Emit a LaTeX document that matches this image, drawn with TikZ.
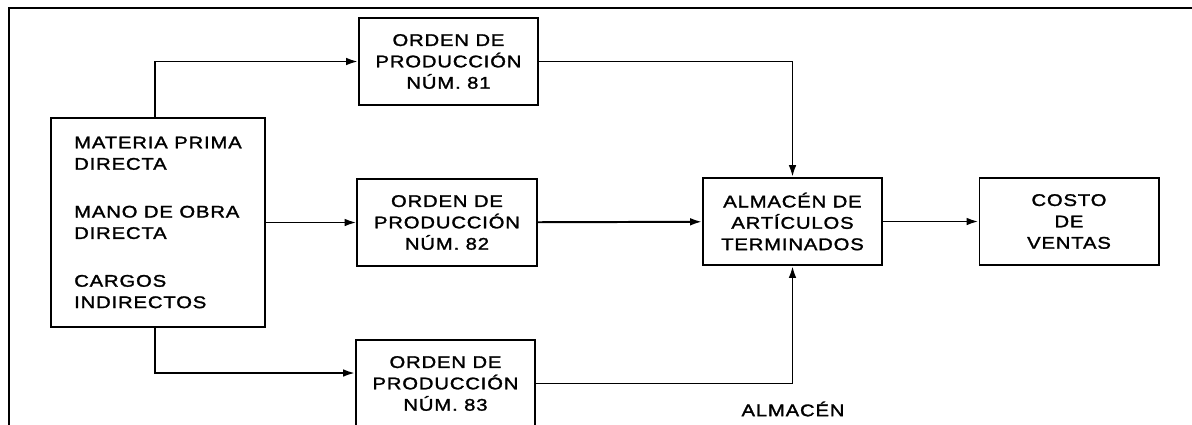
\documentclass[tikz,border=0pt]{standalone}
\usepackage{fontspec}
\setmainfont{Liberation Sans}[FakeStretch=1.2,LetterSpace=5,FakeBold=1.6]
\usepackage{tikz}
\usetikzlibrary{positioning,arrows.meta,calc}

\begin{document}
\begin{tikzpicture}[
        x=0.025cm, y=-0.025cm,
        caja/.style={draw, line width=1.4pt, align=center, font=\fontsize{12}{15.2}\selectfont, minimum width=4.475cm, minimum height=2.175cm, inner sep=0pt},
        flecha/.style={-{Latex[length=8.5pt,width=5.5pt]}, line width=1.4pt},
        texto/.style={font=\fontsize{12}{15.2}\selectfont, inner sep=0pt}
    ]
        \useasboundingbox (0,0) rectangle (1192,424);
        \clip (0,0) rectangle (1192,424);

        % --- Marco ---
        \draw[line width=2pt] (9,8) rectangle (1210,440);

        % Elementos del costo
        \node[caja, align=left, minimum width=5.35cm, minimum height=5.225cm] (insumos) at (158,222.5)
            {MATERIA PRIMA\\DIRECTA\\[18.8pt]MANO DE OBRA\\DIRECTA\\[18.8pt]CARGOS\\INDIRECTOS};

        % Ordenes de produccion
        \node[caja] (orden81) at (448.5,61.5) {ORDEN DE\\PRODUCCIÓN\\NÚM. 81};
        \node[caja] (orden82) at (447,222.5) {ORDEN DE\\PRODUCCIÓN\\NÚM. 82};
        \node[caja] (orden83) at (445.5,383.5) {ORDEN DE\\PRODUCCIÓN\\NÚM. 83};

        % Almacen y costo
        \node[caja] (almacen) at (792.5,221.5) {ALMACÉN DE\\ARTÍCULOS\\TERMINADOS};
        \node[caja] (costo) at (1069,221.5) {COSTO\\DE\\VENTAS};
        \node[texto] (rotulo) at (793,409) {ALMACÉN};

        % --- Conexiones ---
        \draw[flecha] ([xshift=-2pt]insumos.north) |- (orden81.west);
        \draw[flecha] (insumos) -- (orden82);
        \draw[flecha] ([xshift=-2pt]insumos.south) |- ($(orden83.west)+(0,-10.5)$);
        \draw[flecha] (orden81.east) -| (almacen.north);
        \draw[flecha] (orden82) -- (almacen);
        \draw[flecha] (orden83.east) -| (almacen.south);
        \draw[flecha] (almacen) -- (costo);
    \end{tikzpicture}
\end{document}
